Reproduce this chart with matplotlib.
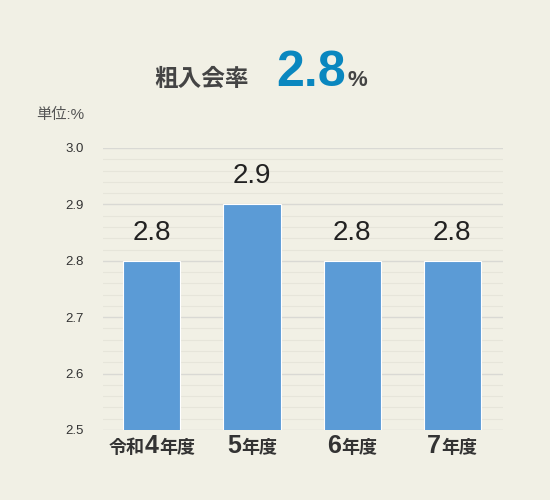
import matplotlib
matplotlib.use("Agg")
from matplotlib import pyplot as plt
from matplotlib.offsetbox import TextArea, HPacker, AnnotationBbox
import numpy as np

plt.rcParams['font.family'] = ['Liberation Sans', 'Noto Sans CJK JP', 'DejaVu Sans']

# データ
prefixes = ["令和", "", "", ""]
years = ["4", "5", "6", "7"]
suffix = "年度"
rates = [2.8, 2.9, 2.8, 2.8]
headline = "2.8"

bg = "#f1f0e5"
bar_color = "#5b9bd6"
text_dark = "#333333"

fig = plt.figure(figsize=(5.5, 5.0), dpi=100, facecolor=bg)
ax = fig.add_axes([0.187, 0.14, 0.728, 0.564], facecolor=bg)

x = np.arange(len(rates))
ax.bar(x, rates, width=0.57, color=bar_color, edgecolor="white", linewidth=0.8, zorder=3)

ax.set_ylim(2.5, 3.0)
ax.set_xlim(-0.49, 3.51)
ax.set_yticks(np.arange(2.5, 3.01, 0.1))
ax.set_yticklabels([f"{v:.1f}" for v in np.arange(2.5, 3.01, 0.1)], fontsize=9.5, color=text_dark)
ax.set_yticks(np.arange(2.5, 3.01, 0.02), minor=True)
ax.grid(axis="y", which="major", color="#d9d9d4", linewidth=1.0, zorder=0)
ax.grid(axis="y", which="minor", color="#e6e5da", linewidth=0.8, zorder=0)
ax.tick_params(axis="y", which="both", length=0, pad=14)
ax.tick_params(axis="x", length=0)
ax.set_xticks([])
for s in ax.spines.values():
    s.set_visible(False)

# 値ラベル
for xi, v in zip(x, rates):
    ax.annotate(f"{v:.1f}", (xi, v), xytext=(0, 11), textcoords="offset points",
                ha="center", va="bottom", fontsize=20, color="#222222")

# 年度ラベル（数字だけ大きく）
for xi, pre, yr in zip(x, prefixes, years):
    parts = []
    if pre:
        parts.append(TextArea(pre, textprops=dict(fontsize=13, fontweight="bold", color=text_dark)))
    parts.append(TextArea(yr, textprops=dict(fontsize=18, fontweight="bold", color=text_dark)))
    parts.append(TextArea(suffix, textprops=dict(fontsize=13, fontweight="bold", color=text_dark)))
    box = HPacker(children=parts, align="baseline", pad=0, sep=0)
    ab = AnnotationBbox(box, (xi, 0), xycoords=("data", "axes fraction"),
                        xybox=(0, -3), boxcoords="offset points",
                        box_alignment=(0.5, 1.0), frameon=False)
    ax.add_artist(ab)

# 見出し
value_box = HPacker(children=[
    TextArea(headline, textprops=dict(fontsize=36, fontweight="bold", color="#0a87bf")),
    TextArea("%", textprops=dict(fontsize=16, fontweight="bold", color="#444444")),
], align="baseline", pad=0, sep=1)
title = HPacker(children=[
    TextArea("粗入会率", textprops=dict(fontsize=17, fontweight="bold", color="#444444")),
    value_box,
], align="baseline", pad=0, sep=20)
fig.add_artist(AnnotationBbox(title, (0.474, 0.854), xycoords="figure fraction",
                              box_alignment=(0.5, 0.5), frameon=False))

fig.text(36 / 550, 1 - 115 / 500, "単位:%", fontsize=11, color="#555555", va="center")

fig.savefig("out.png", dpi=100, facecolor=bg)
